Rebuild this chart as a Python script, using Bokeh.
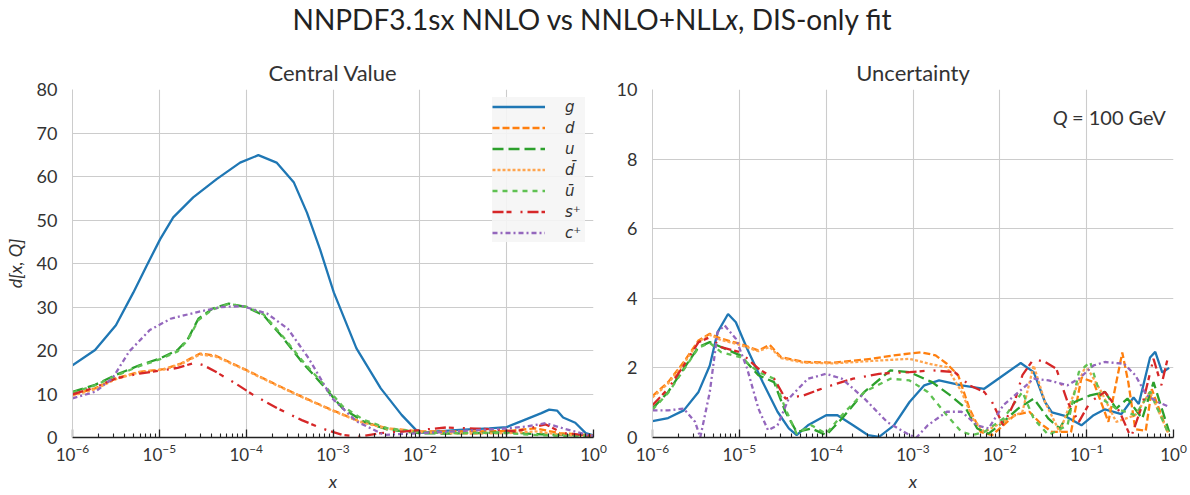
from bokeh.plotting import figure
from bokeh.models import Range1d, FixedTicker, Legend, LegendItem, Label, Div
from bokeh.layouts import column, row
from bokeh.embed import file_html
from bokeh.resources import INLINE

# ---------------- Central value panel (log10 x, value) ----------------
cv_g_lx = [-6.0, -5.74, -5.5, -5.3, -5.146, -4.99, -4.84, -4.61, -4.34, -4.07, -3.86, -3.65, -3.45, -3.30, -3.15,
           -2.99, -2.73, -2.45, -2.21, -2.01, -1.8, -1.5, -1.2, -1.0, -0.8, -0.6, -0.51, -0.42, -0.35, -0.21, -0.09, 0.0]
cv_g = [16.6, 20.1, 25.8, 33.3, 39.5, 45.6, 50.6, 55.2, 59.4, 63.2, 64.9, 63.2, 58.6, 51.7, 43.3,
        33.3, 20.5, 11.3, 5.2, 1.0, 1.4, 1.8, 2.1, 2.4, 4.0, 5.6, 6.4, 6.2, 4.6, 3.4, 1.0, 0.5]

cv_u_lx = [-6.0, -5.74, -5.5, -5.23, -4.99, -4.79, -4.67, -4.55, -4.39, -4.2, -4.0, -3.8, -3.6, -3.36, -3.12,
           -2.89, -2.65, -2.37, -2.01, -1.7, -1.3, -1.0, -0.7, -0.4, -0.1, 0.0]
cv_u = [10.5, 12.1, 14.4, 16.6, 18.2, 20.1, 22.7, 27.3, 29.6, 30.8, 30.0, 28.1, 23.5, 17.4, 12.1,
        6.7, 3.7, 1.8, 1.0, 0.9, 1.0, 1.2, 0.8, 0.6, 0.5, 0.3]
cv_ubar = [10.3, 12.0, 14.2, 16.4, 18.0, 19.8, 22.5, 27.0, 29.4, 30.7, 30.1, 28.3, 23.8, 17.8, 12.5,
           7.2, 4.1, 2.1, 1.3, 1.0, 1.1, 1.0, 0.6, 0.4, 0.4, 0.3]

cv_d_lx = [-6.0, -5.74, -5.5, -5.23, -4.95, -4.75, -4.53, -4.35, -4.04, -3.68, -3.36, -3.01, -2.69, -2.37,
           -2.01, -1.7, -1.38, -0.98, -0.67, -0.39, -0.07, 0.0]
cv_d = [9.8, 11.3, 13.6, 15.1, 15.7, 17.0, 19.3, 18.8, 15.9, 12.4, 9.4, 6.3, 3.7, 2.1,
        1.4, 1.4, 1.4, 1.5, 2.1, 1.0, 0.6, 0.4]
cv_dbar = [9.6, 11.1, 13.4, 15.0, 15.6, 16.9, 19.1, 18.6, 15.8, 12.3, 9.3, 6.2, 3.6, 2.0,
           1.2, 1.0, 0.9, 1.0, 1.4, 0.7, 0.4, 0.3]

cv_s_lx = [-6.0, -5.74, -5.5, -5.23, -4.95, -4.79, -4.59, -4.49, -4.35, -4.12, -3.92, -3.64, -3.36, -3.13,
           -2.89, -2.69, -2.45, -2.17, -1.7, -1.18, -0.9, -0.55, -0.35, -0.07, 0.0]
cv_s = [9.9, 11.5, 13.6, 14.7, 15.5, 16.0, 17.2, 16.6, 15.1, 12.4, 9.8, 6.7, 4.0, 2.1,
        0.6, 0.2, 1.0, 1.4, 2.3, 1.9, 1.4, 3.0, 1.0, 0.5, 0.3]

cv_c_lx = [-6.0, -5.74, -5.54, -5.35, -5.11, -4.87, -4.55, -4.28, -4.04, -3.76, -3.52, -3.28, -3.01, -2.73,
           -2.41, -2.01, -1.5, -0.98, -0.75, -0.55, -0.35, -0.07, 0.0]
cv_c = [9.0, 10.5, 13.6, 19.7, 24.7, 27.3, 28.9, 30.0, 30.2, 28.5, 25.0, 18.2, 9.0, 3.7,
        0.6, 1.0, 1.5, 2.1, 2.6, 3.3, 2.1, 0.6, 0.4]

# ---------------- Uncertainty panel (log10 x, value) ----------------
un_g_lx = [-6.0, -5.82, -5.64, -5.47, -5.34, -5.25, -5.13, -5.04, -4.91, -4.73, -4.56, -4.43, -4.34, -4.21, -4.0,
           -3.87, -3.69, -3.52, -3.39, -3.22, -3.04, -2.87, -2.70, -2.44, -2.18, -1.96, -1.76, -1.61, -1.48, -1.40,
           -1.25, -1.06, -0.92, -0.79, -0.60, -0.46, -0.40, -0.27, -0.21, -0.13, -0.05]
un_g = [0.47, 0.56, 0.78, 1.31, 2.07, 3.03, 3.55, 3.31, 2.55, 1.59, 0.74, 0.26, 0.07, 0.35, 0.64,
        0.64, 0.35, 0.07, 0.02, 0.35, 1.02, 1.50, 1.64, 1.50, 1.40, 1.79, 2.14, 1.88, 1.02, 0.72,
        0.62, 0.35, 0.64, 0.81, 0.67, 1.15, 0.96, 2.30, 2.46, 1.87, 2.0]

un_d_lx = [-6.0, -5.82, -5.64, -5.47, -5.34, -5.21, -4.99, -4.78, -4.65, -4.52, -4.26, -3.91, -3.48, -3.22, -2.91,
           -2.74, -2.61, -2.48, -2.35, -2.22, -2.09, -1.96, -1.83, -1.66, -1.53, -1.40, -1.18, -1.06, -0.92, -0.75,
           -0.59, -0.52, -0.44, -0.32, -0.25, -0.06]
un_d = [1.19, 1.59, 2.17, 2.79, 2.98, 2.84, 2.69, 2.50, 2.66, 2.31, 2.17, 2.15, 2.26, 2.36, 2.45,
        2.36, 2.12, 1.79, 0.83, 0.16, 0.07, 0.35, 0.64, 0.74, 0.40, 0.16, 0.16, 1.72, 1.59, 0.45,
        2.44, 1.58, 0.24, 0.19, 1.39, 0.10]

un_dbar_lx = [-6.0, -5.82, -5.64, -5.47, -5.34, -5.21, -4.99, -4.78, -4.65, -4.52, -4.26, -3.91, -3.48, -3.04,
              -2.78, -2.61, -2.44, -2.31, -2.18, -1.96, -1.74, -1.61, -1.48, -1.31, -1.14, -1.01, -0.83, -0.66,
              -0.44, -0.27, -0.05]
un_dbar = [1.15, 1.55, 2.12, 2.75, 2.95, 2.80, 2.66, 2.48, 2.60, 2.28, 2.15, 2.13, 2.20, 2.26,
           2.10, 2.02, 1.31, 0.54, 0.16, 0.45, 0.74, 2.07, 1.02, 0.16, 1.31, 2.07, 1.31, 0.45,
           0.64, 1.31, 0.07]

un_u_lx = [-6.0, -5.82, -5.64, -5.47, -5.34, -5.21, -4.99, -4.78, -4.60, -4.47, -4.34, -4.17, -4.0, -3.82, -3.56,
           -3.26, -3.04, -2.78, -2.57, -2.39, -2.26, -2.13, -1.96, -1.79, -1.61, -1.44, -1.31, -1.14, -0.96, -0.79,
           -0.66, -0.53, -0.36, -0.23, -0.05]
un_u = [0.83, 1.31, 1.98, 2.60, 2.74, 2.60, 2.36, 1.79, 1.59, 0.74, 0.16, 0.26, 0.07, 0.54, 1.31,
        1.93, 1.88, 1.59, 1.21, 0.83, 0.26, 0.11, 0.45, 0.83, 1.12, 0.54, 0.26, 1.02, 1.21, 1.31,
        0.83, 1.12, 0.54, 1.59, 0.16]

un_ubar_lx = [-6.0, -5.82, -5.64, -5.47, -5.34, -5.21, -4.99, -4.78, -4.60, -4.47, -4.34, -4.17, -4.0, -3.82,
              -3.56, -3.26, -3.04, -2.83, -2.61, -2.44, -2.31, -2.18, -1.96, -1.74, -1.61, -1.44, -1.22, -1.09,
              -0.96, -0.83, -0.66, -0.44, -0.27, -0.05]
un_ubar = [0.80, 1.28, 1.95, 2.58, 2.72, 2.45, 2.31, 1.88, 1.69, 0.83, 0.11, 0.35, 0.11, 0.64,
           1.31, 1.69, 1.64, 1.31, 0.64, 0.16, 0.07, 0.16, 0.54, 1.31, 0.54, 0.07, 0.35, 1.88,
           2.17, 1.12, 0.83, 0.64, 1.31, 0.07]

un_s_lx = [-6.0, -5.82, -5.64, -5.47, -5.34, -5.21, -4.99, -4.78, -4.60, -4.47, -4.26, -4.0, -3.69, -3.39, -3.04,
           -2.78, -2.52, -2.35, -2.18, -2.09, -1.96, -1.83, -1.74, -1.61, -1.48, -1.35, -1.22, -1.09, -0.96, -0.79,
           -0.62, -0.49, -0.36, -0.23, -0.14, -0.05]
un_s = [0.93, 1.40, 2.07, 2.74, 2.88, 2.60, 2.45, 1.98, 1.69, 1.12, 1.21, 1.45, 1.69, 1.83, 1.88,
        1.93, 1.88, 1.50, 1.31, 1.02, 0.35, 1.02, 1.79, 2.26, 2.17, 1.98, 1.02, 0.45, 1.02, 1.31,
        0.74, 0.0, 0.93, 2.26, 1.50, 2.45]

un_c_lx = [-6.0, -5.82, -5.64, -5.51, -5.45, -5.34, -5.25, -5.17, -5.04, -4.91, -4.78, -4.67, -4.56, -4.43, -4.21,
           -4.0, -3.82, -3.56, -3.30, -3.04, -2.96, -2.83, -2.61, -2.44, -2.26, -2.13, -1.96, -1.74, -1.61, -1.44,
           -1.22, -1.09, -0.92, -0.79, -0.57, -0.44, -0.31, -0.18, -0.05]
un_c = [0.78, 0.78, 0.83, 0.45, 0.0, 1.31, 3.03, 3.22, 2.84, 1.98, 0.83, 0.21, 0.35, 1.12, 1.69,
        1.83, 1.69, 1.12, 0.45, 0.07, 0.0, 0.35, 0.74, 0.74, 0.35, 0.26, 0.93, 1.40, 1.69, 1.64,
        1.50, 1.69, 2.07, 2.17, 2.12, 1.79, 1.21, 1.02, 0.88]

labels = ["g", "d", "u", "d\u0304", "u\u0304", "s\u207a", "c\u207a"]
colors = ["#1f77b4", "#ff7f0e", "#2ca02c", "#ffa54f", "#5fc152", "#d62728", "#9467bd"]
dashes = ["solid", "7 3", "11 5", "3 2", "5 5", "11 3 5 9 2 5", "5 3 2 3"]

major_ticks = [1e-6, 1e-5, 1e-4, 1e-3, 1e-2, 1e-1, 1.0]
minor_ticks = [m * 10.0 ** e for e in range(-6, 0) for m in range(2, 10)]

FONT = "Lato"
TXT = "#333333"


def make_fig(title, ymax, ystep, left_border, right_border):
    p = figure(x_axis_type="log", x_range=Range1d(1e-6, 1.0), y_range=Range1d(0, ymax),
               frame_width=521, frame_height=348, min_border_left=left_border,
               min_border_right=right_border, min_border_top=39, min_border_bottom=52,
               output_backend="svg", toolbar_location=None, title=title)
    p.title.align = "center"
    p.title.text_font = FONT
    p.title.text_font_size = "22px"
    p.title.text_font_style = "normal"
    p.title.text_color = TXT
    p.title.standoff = 8
    p.outline_line_color = None
    p.background_fill_color = "white"
    p.border_fill_color = "white"
    p.xaxis.ticker = FixedTicker(ticks=major_ticks, minor_ticks=minor_ticks)
    p.yaxis.ticker = FixedTicker(ticks=list(range(0, ymax + 1, ystep)))
    for ax in (p.xaxis[0], p.yaxis[0]):
        ax.major_label_text_font = FONT
        ax.major_label_text_font_size = "18px"
        ax.major_label_text_color = TXT
        ax.axis_label_text_font = FONT
        ax.axis_label_text_font_size = "18px"
        ax.axis_label_text_font_style = "italic"
        ax.axis_label_text_color = TXT
    xa = p.xaxis[0]
    xa.axis_label = "x"
    xa.major_label_text_font_size = "17px"
    xa.axis_line_color = "#222222"
    xa.axis_line_width = 1.5
    xa.major_tick_line_color = "#222222"
    xa.minor_tick_line_color = "#222222"
    xa.major_tick_line_width = 1.3
    xa.minor_tick_line_width = 1.1
    xa.major_tick_in = 8
    xa.major_tick_out = 0
    xa.minor_tick_in = 4
    xa.minor_tick_out = 0
    xa.major_label_standoff = 6
    xa.axis_label_standoff = 6
    ya = p.yaxis[0]
    ya.axis_line_color = "#cccccc"
    ya.major_tick_line_color = None
    ya.minor_tick_line_color = None
    ya.major_label_standoff = 9
    p.xgrid.grid_line_color = "#cccccc"
    p.ygrid.grid_line_color = "#cccccc"
    p.xgrid.grid_line_width = 1.1
    p.ygrid.grid_line_width = 1.1
    return p


p1 = make_fig("Central Value", 80, 10, 64, 20)
p1.yaxis[0].axis_label = "d[x, Q]"
p1.yaxis[0].axis_label_standoff = 8

cv_series = [(cv_g_lx, cv_g), (cv_d_lx, cv_d), (cv_u_lx, cv_u), (cv_d_lx, cv_dbar),
             (cv_u_lx, cv_ubar), (cv_s_lx, cv_s), (cv_c_lx, cv_c)]
items = []
for (lx, vals), lab, col, dash in zip(cv_series, labels, colors, dashes):
    r = p1.line([10.0 ** v for v in lx], vals, line_color=col, line_width=2.3, line_dash=dash)
    items.append(LegendItem(label=lab, renderers=[r]))

legend = Legend(items=items, location="top_right", glyph_width=53, glyph_height=19,
                label_height=19, spacing=2, padding=9, margin=8, label_standoff=20,
                label_text_font="DejaVu Sans", label_text_font_style="italic",
                label_text_font_size="15px", label_text_color=TXT,
                background_fill_color="#f5f5f5", background_fill_alpha=0.9,
                border_line_color=None)
p1.add_layout(legend)

p2 = make_fig("Uncertainty", 10, 2, 31, 17)
un_series = [(un_g_lx, un_g), (un_d_lx, un_d), (un_u_lx, un_u), (un_dbar_lx, un_dbar),
             (un_ubar_lx, un_ubar), (un_s_lx, un_s), (un_c_lx, un_c)]
for (lx, vals), col, dash in zip(un_series, colors, dashes):
    p2.line([10.0 ** v for v in lx], vals, line_color=col, line_width=2.3, line_dash=dash)

p2.add_layout(Label(x=10.0 ** -0.09, y=9.2, text="= 100 GeV", text_align="right", text_baseline="middle",
                    text_font=FONT, text_font_size="20px", text_color=TXT))
p2.add_layout(Label(x=10.0 ** -1.22, y=9.2, text="Q", text_align="right", text_baseline="middle",
                    text_font=FONT, text_font_size="20px", text_font_style="italic", text_color=TXT))

title = Div(text="NNPDF3.1sx NNLO vs NNLO+NLL<i>x</i>, DIS-only fit", width=1174, height=40,
            styles={"font-family": FONT, "font-size": "28px", "color": "#222222",
                    "text-align": "center", "line-height": "28px"})

layout = column(title, row(p1, p2, spacing=0), spacing=0)
open("out.html", "w").write(file_html(layout, INLINE))
